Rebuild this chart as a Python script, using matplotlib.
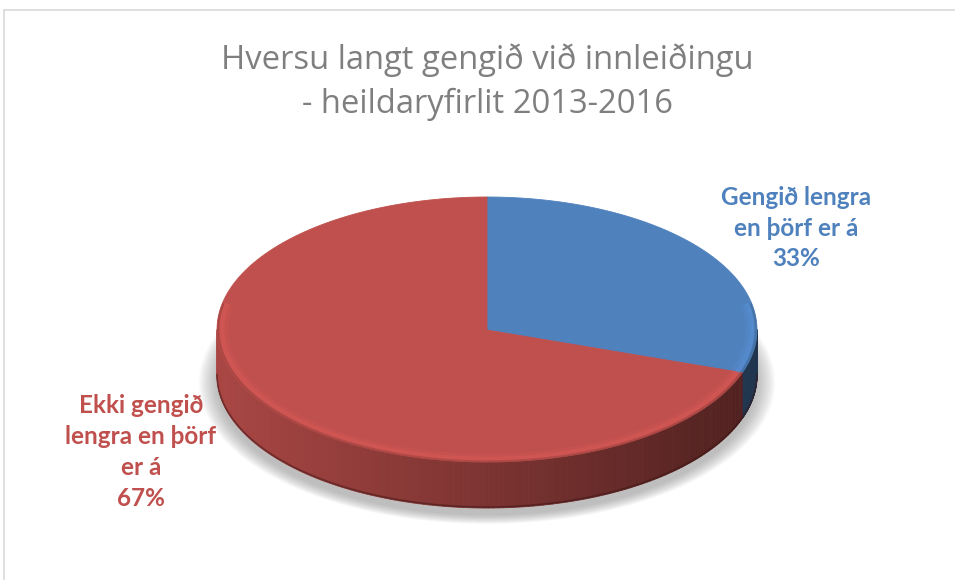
import numpy as np
import matplotlib.pyplot as plt
from matplotlib.patches import Polygon
from matplotlib.collections import PolyCollection

# ── Data ───────────────────────────────────────────────────────────────────────
TITLE = "Hversu langt gengið við innleiðingu\n- heildaryfirlit 2013-2016"
labels = ["Gengið lengra\nen þörf er á", "Ekki gengið\nlengra en þörf\ner á"]
shares = [33, 67]
colors = ["#4f81bd", "#c0504d"]

# ── Geometry (pixel units, y pointing down) ────────────────────────────────────
W, H = 955, 580
CX, CY = 487, 330          # middle of the top ellipse
A, B, C, P = 265.3, 132.6, 25.0, 0.185   # perspective of the disc
DEPTH = 46


def project(phi, r=1.0):
    """Map a point of the unit disc (angle, radius) onto the screen."""
    u, v = r * np.cos(phi), r * np.sin(phi)
    d = 1 + P * v
    return CX + A * u / d, CY - (B * v + C * r) / d


def shade(hex_col, f):
    rgb = np.array([int(hex_col[i:i + 2], 16) for i in (1, 3, 5)]) / 255
    return tuple(np.clip(rgb * f, 0, 1))


fig = plt.figure(figsize=(W / 100, H / 100), dpi=100)
ax = fig.add_axes([0, 0, 1, 1])
ax.set_xlim(0, W)
ax.set_ylim(H, 0)
ax.axis("off")

# chart frame (only top/left edges visible in the crop)
ax.plot([4, W], [10, 10], color="#d9d9d9", lw=1.2)
ax.plot([4, 4], [10, H], color="#d9d9d9", lw=1.2)

# slice angles, clockwise from 12 o'clock
total = sum(shares)
bounds = np.radians(90 - 360 * np.concatenate([[0], np.cumsum(shares)]) / total)

# ── Shadow ─────────────────────────────────────────────────────────────────────
rim = np.linspace(0, 2 * np.pi, 200)
sx, sy = project(rim)
for k in range(16):
    s = 1.0 + 0.0045 * k
    px = CX + (sx - CX) * s
    py = (CY + DEPTH + 7) + (sy - CY) * s
    ax.fill(px, py, color="#808080", alpha=0.04, lw=0, zorder=1)

# ── Side wall ──────────────────────────────────────────────────────────────────
vis_lo, vis_hi = -np.pi + np.arcsin(P), -np.arcsin(P)
x_left, x_right = project(np.pi + np.arcsin(P))[0], project(-np.arcsin(P))[0]
for i in range(len(shares)):
    hi, lo = bounds[i], bounds[i + 1]
    lo, hi = max(lo, vis_lo), min(hi, vis_hi)
    if lo >= hi:
        continue
    ph = np.linspace(lo, hi, 160)
    x, y = project(ph)
    quads, cols = [], []
    for j in range(len(ph) - 1):
        quads.append([(x[j], y[j]), (x[j + 1], y[j + 1]),
                      (x[j + 1], y[j + 1] + DEPTH), (x[j], y[j] + DEPTH)])
        t = ((x[j] + x[j + 1]) / 2 - x_left) / (x_right - x_left)
        cols.append(shade(colors[i], 0.88 - 0.47 * t))
    ax.add_collection(PolyCollection(quads, facecolors=cols, edgecolors=cols,
                                     linewidths=0.6, zorder=2))

# darker lower rim
ph = np.linspace(vis_lo, vis_hi, 200)
x, y = project(ph)
ax.plot(x, y + DEPTH - 1, color="#3a1413", lw=1.2, alpha=0.5, zorder=3)

# ── Top face ───────────────────────────────────────────────────────────────────
ax0, ay0 = project(0.0, 0.0)
for i in range(len(shares)):
    ph = np.linspace(bounds[i], bounds[i + 1], 200)
    x, y = project(ph)
    pts = np.column_stack([np.r_[ax0, x], np.r_[ay0, y]])
    ax.add_patch(Polygon(pts, closed=True, facecolor=colors[i],
                         edgecolor=colors[i], lw=0.6, zorder=4))

# bevel highlight along the front edge
for i in range(len(shares)):
    hi, lo = bounds[i], bounds[i + 1]
    lo, hi = max(lo, vis_lo - 0.2), min(hi, vis_hi + 0.2)
    if lo >= hi:
        continue
    ph = np.linspace(lo, hi, 200)
    for r, lw, a in [(0.975, 6, 0.18), (0.982, 3.5, 0.3)]:
        x, y = project(ph, r)
        ax.plot(x, y, color=shade(colors[i], 1.18), lw=lw, alpha=a,
                solid_capstyle="butt", zorder=5)
    x, y = project(ph, 0.996)
    ax.plot(x, y, color=shade(colors[i], 0.75), lw=1.5, alpha=0.45,
            solid_capstyle="butt", zorder=5)

# ── Text ───────────────────────────────────────────────────────────────────────
ax.text(487, 82, TITLE, ha="center", va="center", fontsize=23.6,
        family="Open Sans", color="#7f7f7f", linespacing=1.42)

lab_pos = [(796, 228), (141, 452)]
for i in range(len(shares)):
    pct = round(100 * shares[i] / total)
    ax.text(*lab_pos[i], f"{labels[i]}\n{pct}%", ha="center", va="center",
            fontsize=17.5, family="Lato", fontweight="bold", color=colors[i],
            linespacing=1.42)

fig.savefig("out.png", dpi=100)
